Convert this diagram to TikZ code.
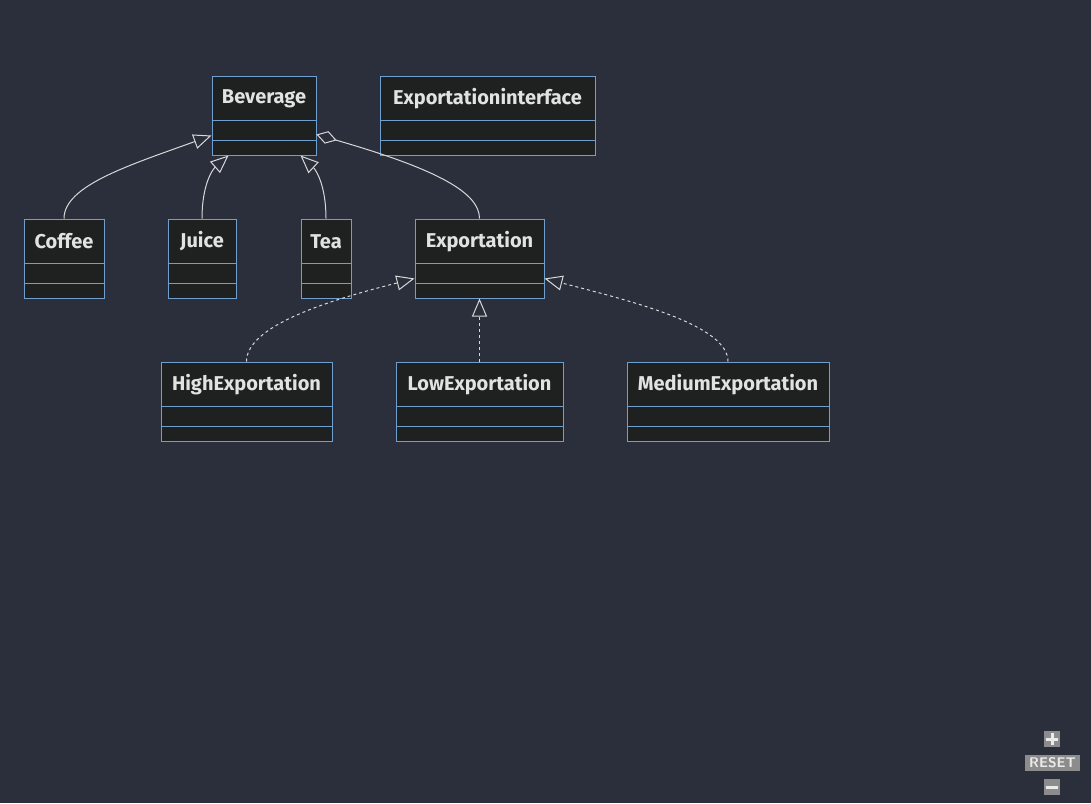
\documentclass[tikz,border=0pt]{standalone}
\usepackage{fontspec}
\setmainfont{Fira Sans}
\usetikzlibrary{arrows.meta,calc}
\definecolor{canvasbg}{HTML}{2A2F3B}
\definecolor{boxfill}{HTML}{1F2020}
\definecolor{boxline}{HTML}{6E9FCF}
\definecolor{linkcol}{HTML}{D8D8D8}
\definecolor{txtcol}{HTML}{E2E2E2}
\definecolor{btnfill}{HTML}{8C8C8C}
\tikzset{
  classbox/.style={draw=boxline, fill=boxfill, line width=1pt, inner sep=0pt,
    minimum height=79pt, anchor=north west},
  divider/.style={draw=boxline, line width=1pt},
  classtitle/.style={text=txtcol, font=\fontsize{20}{24}\selectfont\bfseries, inner sep=0pt},
  inherit/.style={draw=linkcol, line width=1pt,
    -{Triangle[open, length=18pt, width=15pt]}},
  realize/.style={inherit, dash pattern=on 3pt off 3pt},
  aggreg/.style={draw=linkcol, line width=1pt,
    -{Diamond[open, length=21pt, width=13pt]}},
  btn/.style={fill=btnfill, text=white!92!black, inner sep=0pt,
    font=\sffamily\bfseries\fontsize{14}{15}\selectfont},
}
% class box: name, title, left x, top y, width
\newcommand\umlclass[5]{%
  \node[classbox, minimum width=#5pt] (#1) at (#3,#4) {};
  \node[classtitle] (#1-title) at ([yshift=-23pt]#1.north) {#2};
  \draw[divider] ([yshift=-45pt]#1.north west) -- ([yshift=-45pt]#1.north east);
  \draw[divider] ([yshift=-65pt]#1.north west) -- ([yshift=-65pt]#1.north east);
}
\begin{document}
\begin{tikzpicture}[x=1pt, y=-1pt]
  \fill[canvasbg] (0,0) rectangle (1091,803);
  \useasboundingbox (0,0) rectangle (1091,803);

  \umlclass{beverage}{Beverage}{211.5}{75.5}{104}
  \umlclass{expiface}{Exportationinterface}{379.5}{75.5}{215}
  \umlclass{coffee}{Coffee}{23.5}{218.5}{80}
  \umlclass{juice}{Juice}{167.5}{218.5}{68}
  \umlclass{tea}{Tea}{300.5}{218.5}{50}
  \umlclass{export}{Exportation}{414.5}{218.5}{129}
  \umlclass{high}{HighExportation}{160.5}{361.5}{171}
  \umlclass{low}{LowExportation}{395.5}{361.5}{167}
  \umlclass{medium}{MediumExportation}{626.5}{361.5}{202}

  % generalisation to Beverage
  \draw[inherit] (coffee.north) .. controls ++(0,-33) and (130,165)
    .. ([yshift=-20pt]beverage.west);
  \draw[inherit] (juice.north) .. controls ++(0,-33) and (212,170)
    .. ([xshift=17pt]beverage.south west);
  \draw[inherit] (tea.north) .. controls ++(0,-33) and (316,170)
    .. ([xshift=-16pt]beverage.south east);

  % aggregation Exportation -> Beverage
  \draw[aggreg] (export.north) .. controls ++(0,-25) and (440,170)
    .. ([yshift=-19pt]beverage.east);

  % realisations of Exportation
  \draw[realize] (high.north) .. controls ++(0,-36) and (330,300)
    .. ([yshift=-60pt]export.north west);
  \draw[realize] (low.north) -- (export.south);
  \draw[realize] (medium.north) .. controls ++(0,-36) and (635,302)
    .. ([yshift=-60pt]export.north east);

  % zoom controls
  \node[btn, minimum width=16pt, minimum height=16pt] (zoomin) at (1052,739) {};
  \fill[white!92!black] ([xshift=-6pt,yshift=-1.5pt]zoomin.center) rectangle ([xshift=6pt,yshift=1.5pt]zoomin.center);
  \fill[white!92!black] ([xshift=-1.5pt,yshift=-6pt]zoomin.center) rectangle ([xshift=1.5pt,yshift=6pt]zoomin.center);
  \node[btn, minimum width=55pt, minimum height=16pt] (reset) at (1052.5,763) {RESET};
  \node[btn, minimum width=16pt, minimum height=16pt] (zoomout) at (1052,787) {};
  \fill[white!92!black] ([xshift=-6pt,yshift=-1.5pt]zoomout.center) rectangle ([xshift=6pt,yshift=1.5pt]zoomout.center);
\end{tikzpicture}
\end{document}
